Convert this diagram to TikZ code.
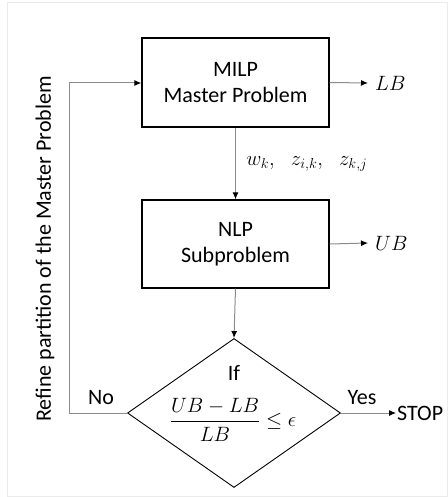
\documentclass[tikz,border=0pt]{standalone}
\usepackage{fontspec}
\usepackage{amsmath}
\setmainfont{Carlito}
\usetikzlibrary{shapes.geometric,arrows.meta}

\begin{document}
\begin{tikzpicture}[x=1pt,y=-1pt,
  every node/.style={font=\fontsize{22}{27}\selectfont},
  block/.style={draw=black, line width=1.2pt, minimum width=187pt, inner sep=0pt, align=center},
  decision/.style={diamond, draw=black, line width=0.9pt, minimum width=213pt, minimum height=149pt, inner sep=0pt},
  link/.style={draw=black!45, line width=1pt, -{Latex[length=7pt,width=6pt,black]}},
  plain/.style={inner sep=0pt}
]
  % page frame
  \useasboundingbox (0,0) rectangle (447,497);
  \draw[black!8, line width=0.8pt] (7,2) rectangle (447,496);

  % blocks
  \node[block, minimum height=89pt] (milp) at (235.5,82.5) {MILP\\[-1pt]Master Problem};
  \node[block, minimum height=88pt] (nlp) at (235.5,244) {NLP\\[-1pt]Subproblem};
  \node[decision] (dec) at (234,413) {};
  \node[plain] (iftxt) at (234,373) {If};
  \node[plain] (cond) at (233,420) {$\dfrac{UB-LB}{LB}\le\epsilon$};

  % outputs
  \node[plain, anchor=west] (lb) at (375,83) {$LB$};
  \node[plain, anchor=west] (ub) at (375,243) {$UB$};
  \node[plain, anchor=west] (stop) at (397,413) {STOP};
  \coordinate (lbin) at (368,83);
  \coordinate (ubin) at (368,243);
  \coordinate (stopin) at (396,413);

  % main flow
  \draw[link] (milp.south) -- (nlp.north)
    node[pos=0.5, anchor=west, xshift=7pt, font=\fontsize{21}{24}\selectfont]
    {$w_k,\hspace{0.6em}z_{i,k},\hspace{0.6em}z_{k,j}$};
  \draw[link] (nlp.south) -- (dec.north);
  \draw[link] (milp.east) -- (lbin);
  \draw[link] (nlp.east) -- (ubin);
  \draw[link] (dec.east) -- (stopin);

  % feedback loop
  \coordinate (loopbot) at (69,413);
  \coordinate (looptop) at (69,83);
  \draw[link] (dec.west) -- (loopbot) -- (looptop) -- (milp.west |- looptop);

  % branch labels
  \node[plain] (yes) at (362,398) {Yes};
  \node[plain] (no) at (101,398) {No};
  \node[plain, rotate=90] (refine) at (45,249) {Refine partition of the Master Problem};
\end{tikzpicture}
\end{document}
